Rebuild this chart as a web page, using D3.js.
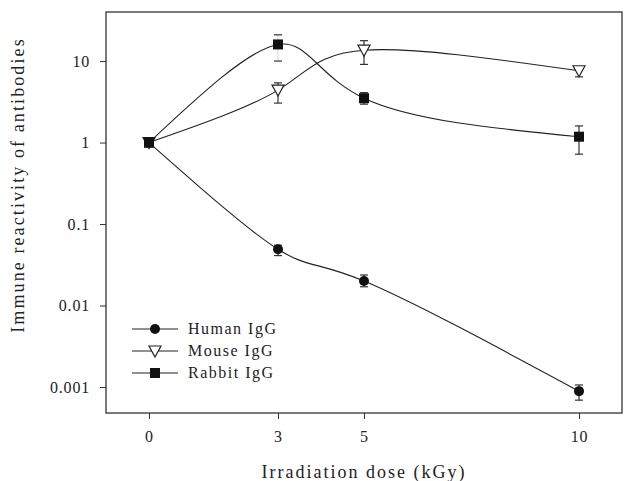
<!DOCTYPE html>
<html>
<head>
<meta charset="utf-8">
<script src="https://cdn.jsdelivr.net/npm/d3@7"></script>
<style>
  body { margin: 0; background: #fff; }
  text { font-family: "Liberation Serif", "DejaVu Serif", serif; fill: #222; }
</style>
</head>
<body>
<script>
// Chart parameters
var svgWidth = 624;
var svgHeight = 481;

var margin = { top: 12, right: 2, bottom: 68, left: 106 };

var width = svgWidth - margin.left - margin.right;
var height = svgHeight - margin.top - margin.bottom;

// Data
var doses = [0, 3, 5, 10];
var xTicks = [0, 3, 5, 10];
var yTicks = [10, 1, 0.1, 0.01, 0.001];
var yTickLabels = ["10", "1", "0.1", "0.01", "0.001"];

var seriesNames = ["Human IgG", "Mouse IgG", "Rabbit IgG"];
var seriesMarkers = ["circle", "triangle", "square"];

var humanValues = [1, 0.049, 0.020, 0.00089];
var humanLow = [1, 0.041, 0.017, 0.00069];
var humanHigh = [1, 0.055, 0.0237, 0.00106];

var mouseValues = [1, 4.4, 13.6, 7.6];
var mouseLow = [1, 3.05, 9.1, 6.4];
var mouseHigh = [1, 5.4, 17.8, 8.5];

var rabbitValues = [1, 16, 3.5, 1.18];
var rabbitLow = [1, 10, 2.96, 0.72];
var rabbitHigh = [1, 21, 4.1, 1.6];

var series = [
  { name: seriesNames[0], marker: seriesMarkers[0], values: humanValues, low: humanLow, high: humanHigh },
  { name: seriesNames[1], marker: seriesMarkers[1], values: mouseValues, low: mouseLow, high: mouseHigh },
  { name: seriesNames[2], marker: seriesMarkers[2], values: rabbitValues, low: rabbitLow, high: rabbitHigh }
];

var svg = d3.select("body")
            .append("svg")
            .attr("width", svgWidth)
            .attr("height", svgHeight);

var chartGroup = svg.append("g")
                    .attr("transform", `translate(${margin.left}, ${margin.top})`);

// Scales
var xScale = d3.scaleLinear().domain([-1, 11]).range([0, width]);
var yScale = d3.scaleLog().domain([0.00048, 40]).range([height, 0]);

// Axes
var bottomAxis = d3.axisBottom(xScale).tickValues(xTicks).tickSize(6).tickPadding(12)
                   .tickFormat(d3.format("d"));
var leftAxis = d3.axisLeft(yScale).tickValues(yTicks).tickSize(6).tickPadding(10)
                 .tickFormat(function(d, i) { return yTickLabels[i]; });

var xAxisG = chartGroup.append("g")
          .attr("transform", `translate(0, ${height})`)
          .call(bottomAxis);
var yAxisG = chartGroup.append("g").call(leftAxis);

[xAxisG, yAxisG].forEach(function(g) {
  g.select(".domain").remove();
  g.selectAll("line").attr("stroke", "#333");
  g.selectAll("text").attr("font-size", 16).attr("fill", "#222")
   .attr("letter-spacing", 0.8)
   .style("font-family", "'Liberation Serif', serif");
});

// frame
chartGroup.append("rect")
  .attr("width", width).attr("height", height)
  .attr("fill", "none").attr("stroke", "#333").attr("stroke-width", 1.3);

// Lines
var line = d3.line()
  .x(function(d) { return xScale(d[0]); })
  .y(function(d) { return yScale(d[1]); })
  .curve(d3.curveNatural);

series.forEach(function(s) {
  var pts = doses.map(function(x, i) { return [x, s.values[i]]; });
  chartGroup.append("path")
    .attr("d", line(pts))
    .attr("fill", "none")
    .attr("stroke", "#222")
    .attr("stroke-width", 1.1);
});

// Error bars
series.forEach(function(s) {
  doses.forEach(function(x, i) {
    if (s.low[i] === s.high[i]) return;
    var cx = xScale(x);
    var g = chartGroup.append("g").attr("stroke", "#333").attr("stroke-width", 1.2);
    g.append("line").attr("x1", cx).attr("x2", cx)
      .attr("y1", yScale(s.low[i])).attr("y2", yScale(s.high[i]))
      .attr("stroke", s.name === "Rabbit IgG" && x === 3 ? "#ddd" : "#333");
    [s.low[i], s.high[i]].forEach(function(v) {
      g.append("line").attr("x1", cx - 4).attr("x2", cx + 4)
        .attr("y1", yScale(v)).attr("y2", yScale(v));
    });
  });
});

// Markers
function drawMarker(g, type, cx, cy) {
  if (type === "circle") {
    g.append("circle").attr("cx", cx).attr("cy", cy).attr("r", 5)
      .attr("fill", "#111");
  } else if (type === "square") {
    g.append("rect").attr("x", cx - 5).attr("y", cy - 5)
      .attr("width", 10).attr("height", 10).attr("fill", "#111");
  } else {
    g.append("path")
      .attr("d", `M${cx - 6},${cy - 5} L${cx + 6},${cy - 5} L${cx},${cy + 6} Z`)
      .attr("fill", "#fff").attr("stroke", "#222").attr("stroke-width", 1.2);
  }
}

series.forEach(function(s) {
  doses.forEach(function(x, i) {
    drawMarker(chartGroup, s.marker, xScale(x), yScale(s.values[i]));
  });
});
// rabbit square on top at dose 0
drawMarker(chartGroup, "square", xScale(0), yScale(rabbitValues[0]));

// Legend
var legend = chartGroup.append("g").attr("transform", "translate(26, 317)");
series.forEach(function(s, i) {
  var row = legend.append("g").attr("transform", `translate(0, ${i * 22})`);
  row.append("line").attr("x1", 0).attr("x2", 46).attr("y1", 0).attr("y2", 0)
    .attr("stroke", "#222").attr("stroke-width", 1.2);
  drawMarker(row, s.marker, 23, 0);
  row.append("text").attr("x", 56).attr("y", 5)
    .attr("font-size", 16).attr("letter-spacing", 1.5)
    .text(s.name);
});

// Axis labels
svg.append("text")
  .attr("transform", "translate(24, 185) rotate(-90)")
  .attr("text-anchor", "middle")
  .attr("font-size", 18).attr("letter-spacing", 2.1)
  .text("Immune reactivity of antibodies");

svg.append("text")
  .attr("x", 364).attr("y", 478)
  .attr("text-anchor", "middle")
  .attr("font-size", 18).attr("letter-spacing", 2)
  .text("Irradiation dose (kGy)");
</script>
</body>
</html>
